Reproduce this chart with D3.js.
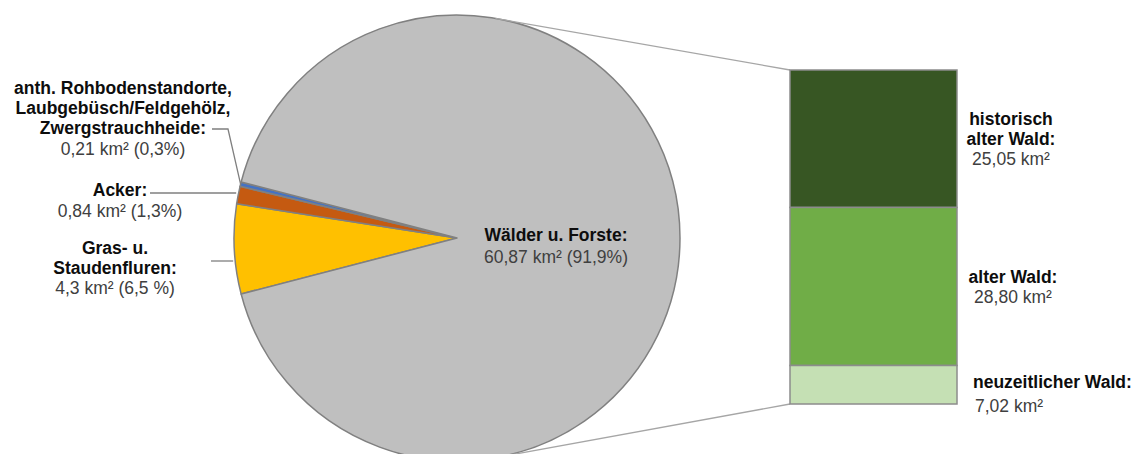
<!DOCTYPE html>
<html>
<head>
<meta charset="utf-8">
<script src="https://cdn.jsdelivr.net/npm/d3@7/dist/d3.min.js"></script>
<style>
  html, body { margin: 0; padding: 0; background: #ffffff; }
  svg { display: block; font-family: "Liberation Sans", Arial, sans-serif; }
  .name { font-weight: bold; fill: #0d0d0d; }
  .val { fill: #404040; }
</style>
</head>
<body>
<svg id="chart" width="1138" height="454"></svg>
<script>
// Land use categories (pie) in km²
const landUse = [
  "Gras- u. Staudenfluren",
  "Acker",
  "anth. Rohbodenstandorte, Laubgebüsch/Feldgehölz, Zwergstrauchheide",
  "Wälder u. Forste"
];
const landArea = [4.3, 0.84, 0.21, 60.87];
const landShare = ["6,5 %", "1,3%", "0,3%", "91,9%"];
const landColors = ["#ffc000", "#c55a11", "#4472c4", "#bfbfbf"];

// Breakdown of the forest slice (stacked bar), top to bottom
const forestTypes = ["historisch alter Wald", "alter Wald", "neuzeitlicher Wald"];
const forestArea = [25.05, 28.80, 7.02];
const forestColors = ["#375623", "#70ad47", "#c5e0b4"];

const de = d3.formatLocale({ decimal: ",", thousands: ".", grouping: [3], currency: ["", " €"] });
const fmt2 = de.format(".2f");
const fmtPlain = v => String(v).replace(".", ",");

const svg = d3.select("#chart");

// ---- pie ----
const cx = 457, cy = 238, R = 223;
const total = d3.sum(landArea);
const smallShare = (total - landArea[3]) / total;
// the small slices are centred on the left (9 o'clock)
const start = 1.5 * Math.PI - smallShare * Math.PI;
const pie = d3.pie().sort(null).value(d => d).startAngle(start).endAngle(start + 2 * Math.PI);
const arcs = pie(landArea);
const arc = d3.arc().innerRadius(0).outerRadius(R);

const pieG = svg.append("g").attr("transform", `translate(${cx},${cy})`);
pieG.selectAll("path")
  .data(arcs)
  .join("path")
  .attr("d", arc)
  .attr("fill", (d, i) => landColors[i])
  .attr("stroke", "#808080")
  .attr("stroke-width", 1.5)
  .attr("stroke-linejoin", "round");

// ---- stacked bar ----
const barX0 = 790, barX1 = 957, barTop = 70, barBottom = 404;
const y = d3.scaleLinear().domain([0, d3.sum(forestArea)]).range([barTop, barBottom]);
let acc = 0;
const segs = forestArea.map((v, i) => { const s = { i, y0: acc, y1: acc + v }; acc += v; return s; });

// connector lines from the pie tangents to the bar corners
function tangentPoint(px, py, upper) {
  const dx = px - cx, dy = py - cy;
  const d = Math.hypot(dx, dy);
  const base = Math.atan2(dy, dx);
  const off = Math.acos(R / d);
  const a = upper ? base - off : base + off;
  return [cx + R * Math.cos(a), cy + R * Math.sin(a)];
}
const tTop = tangentPoint(barX0, y(0), true);
const tBot = tangentPoint(barX0, y(d3.sum(forestArea)), false);
svg.append("line")
  .attr("x1", tTop[0]).attr("y1", tTop[1]).attr("x2", barX0).attr("y2", y(0))
  .attr("stroke", "#a6a6a6").attr("stroke-width", 1.3);
svg.append("line")
  .attr("x1", tBot[0]).attr("y1", tBot[1]).attr("x2", barX0).attr("y2", y(d3.sum(forestArea)))
  .attr("stroke", "#a6a6a6").attr("stroke-width", 1.3);

svg.append("g").selectAll("rect")
  .data(segs)
  .join("rect")
  .attr("x", barX0)
  .attr("width", barX1 - barX0)
  .attr("y", d => y(d.y0))
  .attr("height", d => y(d.y1) - y(d.y0))
  .attr("fill", d => forestColors[d.i])
  .attr("stroke", "#8c8c8c")
  .attr("stroke-width", 1.5);

// ---- labels ----
function label(lines, x, anchor) {
  const g = svg.append("g").attr("font-size", "17.5px");
  lines.forEach(l => {
    g.append("text")
      .attr("class", l.bold ? "name" : "val")
      .attr("x", l.x != null ? l.x : x)
      .attr("y", l.y)
      .attr("text-anchor", anchor)
      .text(l.t);
  });
}
const pieValue = i => `${fmtPlain(landArea[i])} km² (${landShare[i]})`;
const barValue = i => `${fmt2(forestArea[i])} km²`;

label([
  { t: "anth. Rohbodenstandorte,", y: 94, bold: true },
  { t: "Laubgebüsch/Feldgehölz,", y: 114, bold: true },
  { t: "Zwergstrauchheide:", y: 134, bold: true },
  { t: pieValue(2), y: 155 }
], 123, "middle");
label([
  { t: "Acker:", y: 196, bold: true },
  { t: pieValue(1), y: 217 }
], 120, "middle");
label([
  { t: "Gras- u.", y: 254, bold: true },
  { t: "Staudenfluren:", y: 274, bold: true },
  { t: pieValue(0), y: 294 }
], 115, "middle");
label([
  { t: "Wälder u. Forste:", y: 241, bold: true },
  { t: pieValue(3), y: 263 }
], 556, "middle");

label([
  { t: "historisch", y: 125, bold: true },
  { t: "alter Wald:", y: 145, bold: true },
  { t: barValue(0), y: 165 }
], 1011, "middle");
label([
  { t: "alter Wald:", y: 283, bold: true },
  { t: barValue(1), y: 303 }
], 1013, "middle");
label([
  { t: "neuzeitlicher Wald:", y: 388, bold: true, x: 973 },
  { t: barValue(2), y: 412, x: 975 }
], 973, "start");

// leader lines from labels to the small slices
const leader = d3.line();
function edgePoint(i) {
  const a = (arcs[i].startAngle + arcs[i].endAngle) / 2;
  return [cx + R * Math.sin(a), cy - R * Math.cos(a)];
}
const lines = [
  [[212, 129], [228, 129], edgePoint(2)],
  [[150, 193], [edgePoint(1)[0] - 2, 193]],
  [[211, 261], [cx - Math.sqrt(R * R - (261 - cy) ** 2) - 2, 261]]
];
svg.append("g").selectAll("path")
  .data(lines)
  .join("path")
  .attr("d", leader)
  .attr("fill", "none")
  .attr("stroke", "#7f7f7f")
  .attr("stroke-width", 1.3);
</script>
</body>
</html>
